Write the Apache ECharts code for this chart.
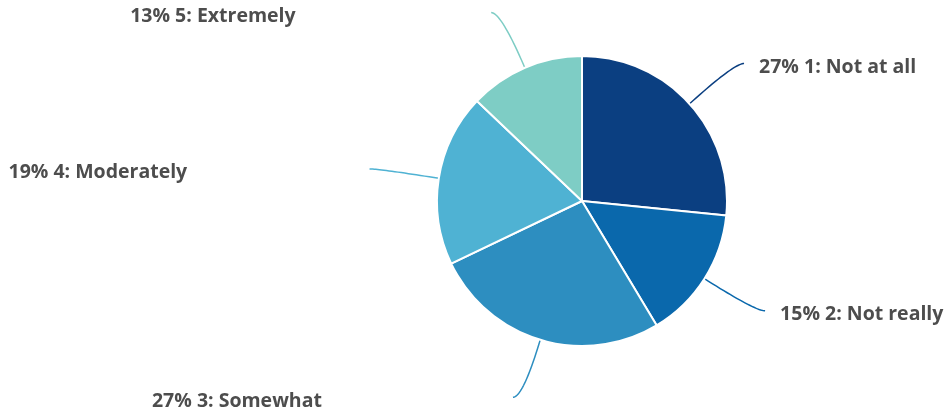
<!DOCTYPE html>
<html>
<head>
<meta charset="utf-8">
<script src="https://cdn.jsdelivr.net/npm/echarts@6/dist/echarts.min.js"></script>
<style>
html,body{margin:0;padding:0;background:#fff;}
#chart{width:950px;height:413px;}
</style>
</head>
<body>
<div id="chart"></div>
<script>
const categories = ['1: Not at all', '2: Not really', '3: Somewhat', '4: Moderately', '5: Extremely'];
const values = [26.6, 14.8, 26.5, 19.2, 12.9];
const colors = ['#0b3f81', '#0a68ac', '#2d8ec0', '#4fb2d3', '#7ecdc5'];

const R = 145;
const chart = echarts.init(document.getElementById('chart'));
chart.setOption({
  animation: false,
  series: [{
    type: 'pie',
    center: [582, 201],
    radius: R,
    startAngle: 90,
    clockwise: true,
    avoidLabelOverlap: false,
    itemStyle: { borderColor: '#ffffff', borderWidth: 2 },
    data: categories.map((c, i) => ({ name: c, value: values[i], itemStyle: { color: colors[i] } })),
    label: {
      show: true,
      position: 'outside',
      formatter: p => Math.round(p.percent) + '% ' + p.name,
      fontFamily: 'Open Sans',
      fontWeight: 'bold',
      fontSize: 19.5,
      color: '#4d4d4d'
    },
    labelLine: {
      show: true,
      length: 60,
      length2: 10,
      smooth: false,
      lineStyle: { width: 1.5 }
    },
    labelLayout: function (params) {
      const pts = params.labelLinePoints;
      if (!pts) return {};
      const p0 = pts[0], p1 = pts[1];
      let dx = p1[0] - p0[0], dy = p1[1] - p0[1];
      const len = Math.hypot(dx, dy) || 1;
      dx /= len; dy /= len;
      const cx = p0[0] - R * dx, cy = p0[1] - R * dy;
      const side = dx >= 0 ? 1 : -1;
      const c = [cx + (R + 60) * dx, cy + (R + 60) * dy];
      const e = [c[0] + side * 10, c[1]];
      const curve = [];
      const N = 24;
      for (let i = 0; i <= N; i++) {
        const t = i / N, u = 1 - t;
        curve.push([
          u * u * p0[0] + 2 * t * u * c[0] + t * t * e[0],
          u * u * p0[1] + 2 * t * u * c[1] + t * t * e[1]
        ]);
      }
      const x = side > 0 ? e[0] + 15 : e[0] - 361;
      return {
        x: x,
        y: e[1] + 4,
        align: 'left',
        verticalAlign: 'middle',
        labelLinePoints: curve
      };
    }
  }]
});
</script>
</body>
</html>
